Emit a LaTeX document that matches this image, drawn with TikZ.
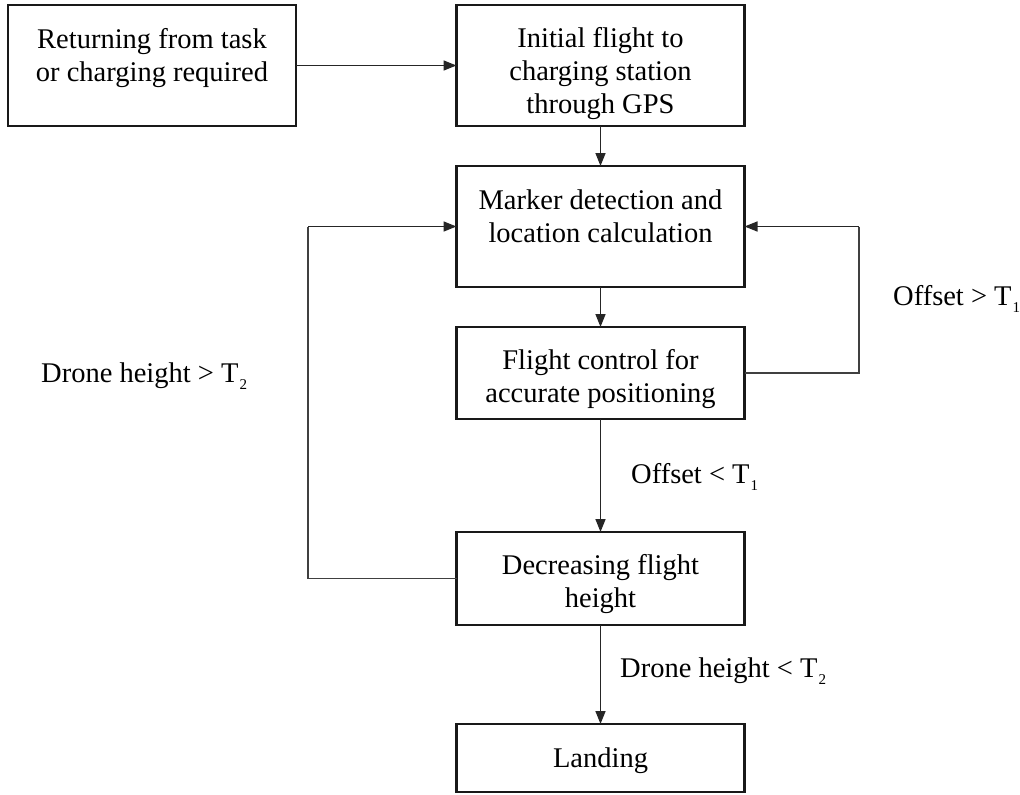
\documentclass[tikz,border=0pt]{standalone}
\usepackage{fontspec}
\setmainfont{Liberation Serif}
\usetikzlibrary{arrows.meta}
\tikzset{
  box/.style={draw=black!90, line width=2.6pt, inner sep=0pt, outer sep=0pt},
  txt/.style={align=center, inner sep=0pt, anchor=base, font=\fontsize{28.5}{33}\selectfont},
  lbl/.style={inner sep=0pt, anchor=base west, font=\fontsize{28.5}{33}\selectfont},
  arr/.style={draw=black!85, line width=1.5pt, -{Triangle[length=13pt,width=10pt]}},
  ln/.style={draw=black!75, line width=1.5pt}
}
\newcommand{\sbs}[1]{\hspace{1pt}\raisebox{-7pt}{\fontsize{15}{15}\selectfont #1}}
\begin{document}
\begin{tikzpicture}[x=1pt,y=-1pt]
\useasboundingbox (0,0) rectangle (1020,795);
% boxes
\node[box, minimum width=288, minimum height=121] (b1) at (152,65.5) {};
\node[box, minimum width=288, minimum height=121] (b2) at (600.5,65.5) {};
\node[box, minimum width=288, minimum height=121] (b3) at (600.5,226.5) {};
\node[box, minimum width=288, minimum height=92] (b4) at (600.5,373) {};
\node[box, minimum width=288, minimum height=93] (b5) at (600.5,578.5) {};
\node[box, minimum width=288, minimum height=68] (b6) at (600.5,758) {};
% texts (anchor = baseline of last line)
\node[txt] (t1) at (152,81) {Returning from task\\or charging required};
\node[txt] (t2) at (600.5,113) {Initial flight to\\charging station\\through GPS};
\node[txt] (t3) at (600.5,242) {Marker detection and\\location calculation};
\node[txt] (t4) at (600.5,402) {Flight control for\\accurate positioning};
\node[txt] (t5) at (600.5,607) {Decreasing flight\\height};
\node[txt] (t6) at (600.5,767) {Landing};
% labels
\node[lbl] (l1) at (893,305) {Offset > T\sbs{1}};
\node[lbl] (l2) at (41,382) {Drone height > T\sbs{2}};
\node[lbl] (l3) at (631,483) {Offset < T\sbs{1}};
\node[lbl] (l4) at (620,677) {Drone height < T\sbs{2}};
% connectors
\coordinate (lx) at (308,0);
\coordinate (rx) at (859,0);
\draw[arr] (b1.east) -- (b2.west);
\draw[arr] (b2.south) -- (b3.north);
\draw[arr] (b3.south) -- (b4.north);
\draw[arr] (b4.south) -- (b5.north);
\draw[arr] (b5.south) -- (b6.north);
\draw[ln] (b5.west) -- (b5.west -| lx) -- (b3.west -| lx);
\draw[arr] (b3.west -| lx) -- (b3.west);
\draw[ln] (b4.east) -- (b4.east -| rx) -- (b3.east -| rx);
\draw[arr] (b3.east -| rx) -- (b3.east);
\end{tikzpicture}
\end{document}
